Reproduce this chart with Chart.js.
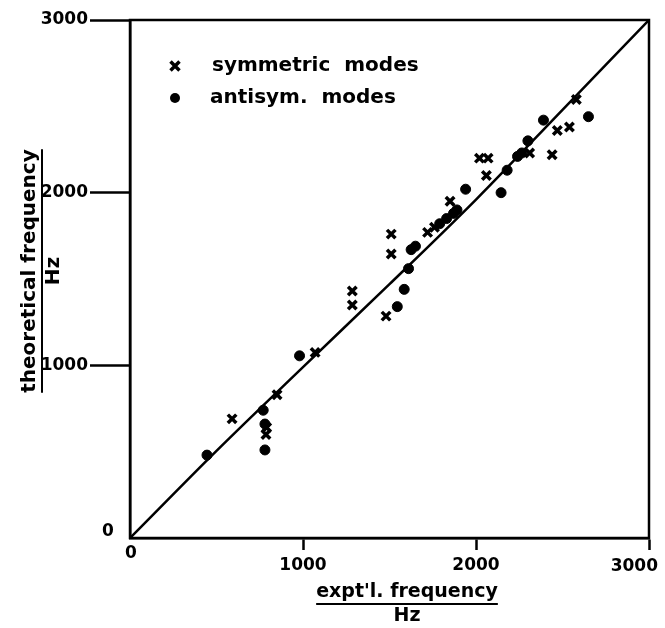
<!DOCTYPE html>
<html>
<head>
<meta charset="utf-8">
<script src="https://cdn.jsdelivr.net/npm/chart.js@4/dist/chart.umd.min.js"></script>
<style>
  html, body { margin: 0; padding: 0; background: #fff; }
  canvas { display: block; }
</style>
</head>
<body>
<canvas id="c" width="665" height="628"></canvas>
<script>
// Experimental vs. theoretical natural frequencies (Hz)
const symmetricModes = [
  [590, 690], [850, 830], [790, 640], [786, 600], [1070, 1075],
  [1285, 1430], [1285, 1350], [1480, 1285], [1510, 1760], [1510, 1645],
  [1720, 1770], [1760, 1800], [1850, 1950], [2020, 2200], [2070, 2200],
  [2060, 2100], [2310, 2230], [2440, 2220], [2470, 2360], [2540, 2380],
  [2580, 2540]
];
const antisymmetricModes = [
  [445, 480], [770, 740], [780, 660], [780, 510], [980, 1055],
  [1545, 1340], [1585, 1440], [1610, 1560], [1625, 1670], [1650, 1690],
  [1790, 1820], [1830, 1850], [1870, 1880], [1890, 1900], [1940, 2020],
  [2145, 2000], [2180, 2130], [2240, 2210], [2265, 2230], [2300, 2300],
  [2390, 2420], [2650, 2440]
];
// Correlation curve
const fitCurve = [
  [0, 0], [500, 505], [1000, 990], [1500, 1470], [2000, 1960], [2500, 2480], [3000, 3000]
];
const tickValues = [0, 1000, 2000, 3000];
const legendLabels = ['symmetric  modes', 'antisym.  modes'];
const xTitle = "expt'l. frequency";
const yTitle = 'theoretical frequency';
const unitLabel = 'Hz';

const toXY = arr => arr.map(([x, y]) => ({ x, y }));
const FONT = 'DejaVu Sans';
const X_MIN = tickValues[0];
const X_MAX = tickValues[tickValues.length - 1];

const hideZero = ctx => (ctx.tick && ctx.tick.value === 0) ? 'rgba(0,0,0,0)' : '#000';

// Frame, end labels, legend and underlined axis titles
const decorations = {
  id: 'decorations',
  afterDraw(chart) {
    const { ctx, chartArea: a, scales } = chart;
    ctx.save();
    ctx.strokeStyle = '#000';
    ctx.lineWidth = 2.5;
    ctx.strokeRect(a.left, a.top, a.right - a.left, a.bottom - a.top);

    ctx.fillStyle = '#000';
    ctx.font = 'bold 17px ' + FONT;
    ctx.textAlign = 'center';
    ctx.textBaseline = 'middle';
    ctx.fillText(String(X_MIN), scales.y.left + 108, scales.y.getPixelForValue(X_MIN) - 6);
    ctx.fillText(String(X_MIN), scales.x.getPixelForValue(X_MIN) + 1, a.bottom + 16);
    // last x label kept inside the canvas
    ctx.textAlign = 'right';
    ctx.fillText(String(X_MAX), scales.x.getPixelForValue(X_MAX) + 9, a.bottom + 29);

    // legend inside the plot
    const lx = a.left + 45;
    const rows = [a.top + 46, a.top + 78];
    ctx.lineWidth = 3.5;
    ctx.beginPath();
    const r = 4.5;
    ctx.moveTo(lx - r, rows[0] - r); ctx.lineTo(lx + r, rows[0] + r);
    ctx.moveTo(lx + r, rows[0] - r); ctx.lineTo(lx - r, rows[0] + r);
    ctx.stroke();
    ctx.beginPath();
    ctx.arc(lx, rows[1], 5, 0, Math.PI * 2);
    ctx.fill();
    ctx.font = 'bold 20px ' + FONT;
    ctx.textAlign = 'left';
    ctx.fillText(legendLabels[0], lx + 37, rows[0]);
    ctx.fillText(legendLabels[1], lx + 35, rows[1]);

    // x title
    ctx.textAlign = 'center';
    ctx.font = 'bold 19px ' + FONT;
    const xc = 407;
    const xty = 592;
    ctx.fillText(xTitle, xc, xty);
    const xw = ctx.measureText(xTitle).width;
    ctx.lineWidth = 2;
    ctx.beginPath();
    ctx.moveTo(xc - xw / 2, xty + 12); ctx.lineTo(xc + xw / 2, xty + 12);
    ctx.stroke();
    ctx.fillText(unitLabel, xc, xty + 24);

    // y title
    ctx.save();
    ctx.translate(30, 271);
    ctx.rotate(-Math.PI / 2);
    ctx.font = 'bold 20px ' + FONT;
    ctx.fillText(yTitle, 0, 0);
    const yw = ctx.measureText(yTitle).width;
    ctx.beginPath();
    ctx.moveTo(-yw / 2, 12); ctx.lineTo(yw / 2, 12);
    ctx.stroke();
    ctx.fillText(unitLabel, 0, 24);
    ctx.restore();

    ctx.restore();
  }
};

new Chart(document.getElementById('c'), {
  type: 'scatter',
  data: {
    datasets: [
      {
        label: 'fit',
        data: toXY(fitCurve),
        showLine: true,
        borderColor: '#000',
        borderWidth: 2.5,
        pointRadius: 0,
        cubicInterpolationMode: 'monotone',
        fill: false,
        order: 2
      },
      {
        label: legendLabels[0],
        data: toXY(symmetricModes),
        pointStyle: 'crossRot',
        pointRadius: 6,
        borderWidth: 3.5,
        borderColor: '#000',
        backgroundColor: '#000',
        order: 1
      },
      {
        label: legendLabels[1],
        data: toXY(antisymmetricModes),
        pointStyle: 'circle',
        pointRadius: 5,
        borderWidth: 1,
        borderColor: '#000',
        backgroundColor: '#000',
        order: 1
      }
    ]
  },
  options: {
    responsive: false,
    animation: false,
    devicePixelRatio: 1,
    layout: { padding: { top: 20, right: 16, left: 0, bottom: 0 } },
    plugins: { legend: { display: false }, tooltip: { enabled: false } },
    scales: {
      x: {
        type: 'linear', min: X_MIN, max: X_MAX,
        afterBuildTicks: s => { s.ticks = tickValues.map(v => ({ value: v })); },
        afterFit: s => { s.height = 90; s.paddingLeft = 0; s.paddingRight = 0; },
        ticks: {
          color: '#000',
          font: { family: FONT, size: 17, weight: 'bold' },
          padding: 5,
          maxRotation: 0,
          callback: v => (v === X_MIN || v === X_MAX) ? '' : String(v)
        },
        grid: { drawOnChartArea: false, drawTicks: true, tickLength: 12, tickWidth: 2.5, tickColor: hideZero },
        border: { display: true, color: '#000', width: 2.5 }
      },
      y: {
        type: 'linear', min: X_MIN, max: X_MAX,
        afterBuildTicks: s => { s.ticks = tickValues.map(v => ({ value: v })); },
        afterFit: s => { s.width = 130; s.paddingTop = 0; s.paddingBottom = 0; },
        ticks: {
          color: '#000',
          font: { family: FONT, size: 17, weight: 'bold' },
          padding: 2,
          callback: v => v === X_MIN ? '' : String(v)
        },
        grid: { drawOnChartArea: false, drawTicks: true, tickLength: 40, tickWidth: 2.5, tickColor: hideZero },
        border: { display: true, color: '#000', width: 2.5 }
      }
    }
  },
  plugins: [decorations]
});
</script>
</body>
</html>
